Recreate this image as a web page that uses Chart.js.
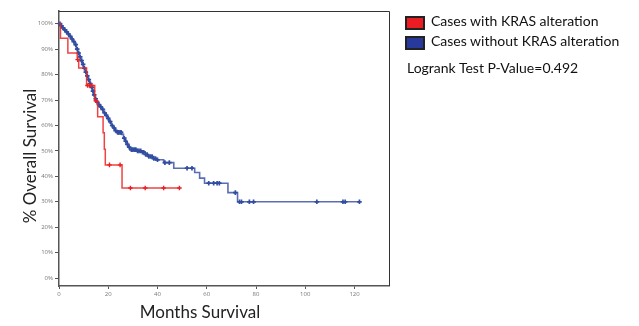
<!DOCTYPE html>
<html>
<head>
<meta charset="utf-8">
<script src="https://cdn.jsdelivr.net/npm/chart.js@4.4.1/dist/chart.umd.min.js"></script>
<style>
  html, body { margin: 0; padding: 0; background: #fff; }
  #wrap { position: relative; width: 639px; height: 326px; }
  .box { position: absolute; left: 405px; width: 16px; height: 10px; border: 2px solid #222; }
  .txt { position: absolute; font-family: Lato, sans-serif; font-size: 14px; line-height: 16px; color: #111; white-space: nowrap; }
</style>
</head>
<body>
<div id="wrap">
  <canvas id="km" width="639" height="326"></canvas>
  <div class="box" style="top:16px;background:#ec1c24;"></div>
  <div class="txt" style="left:431px;top:13px;">Cases with KRAS alteration</div>
  <div class="box" style="top:36px;background:#27399a;"></div>
  <div class="txt" style="left:431px;top:33px;">Cases without KRAS alteration</div>
  <div class="txt" style="left:407px;top:60px;">Logrank Test P-Value=0.492</div>
</div>
<script>
// Kaplan-Meier steps: month of event and survival (%) after it
const kmMonthsKras = [0, 0.6, 3.6, 7.4, 8.0, 11.2, 14.5, 15.7, 17.9, 18.4, 18.8, 25.6, 48.9];
const kmSurvKras   = [100, 94.3, 88.5, 85.9, 82.6, 75.7, 69.7, 63.4, 57.1, 50.7, 44.5, 35.4, 35.4];
const censorKras   = [7.6, 11.6, 12.4, 13.3, 15.0, 20.5, 24.8, 29.0, 35.0, 42.5, 48.9];

const kmMonthsWt = [0, 0.5, 1.2, 2, 2.8, 3.5, 4.2, 5, 5.7, 6.3, 7, 7.6, 8.2, 8.8, 9.4, 10, 10.6, 11.2, 11.8, 12.4,
  13, 13.5, 14, 14.6, 15.2, 15.8, 16.5, 17.2, 18, 18.8, 19.6, 20.4, 21.2, 22, 22.8, 23.5, 25.5, 26.2, 26.8, 27.4,
  28, 28.8, 31.5, 33.5, 35, 36.2, 38, 39.5, 42.5, 46.6, 55.1, 57.1, 59.1, 68.6, 72.5, 122];
const kmSurvWt = [100, 99.2, 98.4, 97.6, 96.8, 96, 95, 94, 93, 91.8, 90, 88.5, 87, 85.5, 84, 82.5, 81, 79.5, 78, 76.5,
  75, 73.5, 72, 70.5, 69.2, 68.2, 67.3, 66.3, 65, 64, 62.8, 61.5, 60, 59, 58, 57.3, 56.5, 55, 53.8, 52.6,
  51.5, 50.5, 50, 49.5, 48.6, 47.8, 47, 46.5, 45.4, 43.2, 41.5, 39.3, 37.3, 33.6, 30, 30];
const censorWt = [0.4, 1.0, 1.6, 2.4, 3.1, 3.8, 4.6, 5.3, 6.0, 6.8, 7.4, 8.0, 8.6, 9.2, 9.8, 10.3, 10.9, 11.5, 12.1,
  12.7, 13.3, 13.8, 14.3, 14.9, 15.5, 16.2, 17.0, 17.8, 18.5, 19.2, 20.0, 20.8, 21.6, 22.4, 23.0, 23.8, 24.3, 24.8,
  25.2, 26.5, 27.1, 27.8, 28.5, 29.4, 30.0, 30.6, 31.2, 31.9, 32.5, 33.2, 33.9, 34.4, 35.2, 35.8, 36.5, 37.2, 37.8,
  38.5, 39.2, 40.0, 43.0, 44.8, 52.0, 54.0, 60.8, 62.8, 64.2, 65.1, 71.6, 73.3, 74.1, 77.3, 79.0, 104.7, 115.3, 116.2, 122];

const xTickVals = [0, 20, 40, 60, 80, 100, 120];
const yTickVals = [0, 10, 20, 30, 40, 50, 60, 70, 80, 90, 100];

function toPoints(xs, ys) {
  return xs.map((x, i) => ({ x: x, y: ys[i] }));
}
// censored cases sit on the curve at the current step level
function censorPoints(times, xs, ys) {
  return times.map(t => {
    let s = ys[0];
    for (let i = 0; i < xs.length; i++) { if (xs[i] <= t) s = ys[i]; }
    return { x: t, y: s };
  });
}

const framePlugin = {
  id: 'frame',
  afterDraw(chart) {
    const { ctx, chartArea: a } = chart;
    ctx.save();
    ctx.strokeStyle = '#333';
    ctx.lineWidth = 1;
    ctx.beginPath();
    ctx.moveTo(a.left, a.top + 0.5);
    ctx.lineTo(a.right + 0.5, a.top + 0.5);
    ctx.lineTo(a.right + 0.5, a.bottom);
    ctx.stroke();
    ctx.fillStyle = '#222';
    ctx.font = '17px Lato, sans-serif';
    ctx.textAlign = 'center';
    ctx.textBaseline = 'alphabetic';
    ctx.fillText('Months Survival', 200, 318);
    ctx.translate(36, 156);
    ctx.rotate(-Math.PI / 2);
    ctx.fillText('% Overall Survival', 0, 0);
    ctx.restore();
  }
};

const tickFont = { family: 'Open Sans, sans-serif', size: 6 };

new Chart(document.getElementById('km'), {
  type: 'line',
  data: {
    datasets: [
      {
        label: 'Cases with KRAS alteration',
        data: toPoints(kmMonthsKras, kmSurvKras),
        stepped: 'before',
        borderColor: 'rgba(236,34,34,0.85)',
        borderWidth: 1.5,
        pointRadius: 0,
        fill: false
      },
      {
        type: 'scatter',
        label: 'censored KRAS',
        data: censorPoints(censorKras, kmMonthsKras, kmSurvKras),
        showLine: false,
        pointStyle: 'cross',
        pointRadius: 2.3,
        borderWidth: 1.4,
        borderColor: '#e42020'
      },
      {
        label: 'Cases without KRAS alteration',
        data: toPoints(kmMonthsWt, kmSurvWt),
        stepped: 'before',
        borderColor: 'rgba(48,74,160,0.8)',
        borderWidth: 1.6,
        pointRadius: 0,
        fill: false
      },
      {
        type: 'scatter',
        label: 'censored no KRAS',
        data: censorPoints(censorWt, kmMonthsWt, kmSurvWt),
        showLine: false,
        pointStyle: 'cross',
        pointRadius: 2.3,
        borderWidth: 1.7,
        borderColor: '#3450a2'
      }
    ]
  },
  options: {
    responsive: false,
    animation: false,
    clip: false,
    layout: { padding: { top: 11, right: 250, left: 0, bottom: 0 } },
    plugins: {
      legend: { display: false },
      tooltip: { enabled: false }
    },
    scales: {
      x: {
        type: 'linear',
        min: 0,
        max: 134,
        afterBuildTicks: axis => { axis.ticks = xTickVals.map(v => ({ value: v })); },
        afterFit: axis => { axis.height = 40; },
        border: { display: true, color: '#555', width: 1.5 },
        grid: { drawOnChartArea: false, drawTicks: true, tickLength: 3, color: '#555' },
        ticks: { font: tickFont, color: '#777', padding: 2, maxRotation: 0, autoSkip: false }
      },
      y: {
        type: 'linear',
        min: -3.1,
        max: 105,
        afterBuildTicks: axis => { axis.ticks = yTickVals.map(v => ({ value: v })); },
        afterFit: axis => { axis.width = 59; },
        border: { display: true, color: '#555', width: 1.5 },
        grid: { drawOnChartArea: false, drawTicks: true, tickLength: 4, color: '#555' },
        ticks: { font: tickFont, color: '#777', padding: 2, autoSkip: false, callback: v => v + '%' }
      }
    }
  },
  plugins: [framePlugin]
});
</script>
</body>
</html>
